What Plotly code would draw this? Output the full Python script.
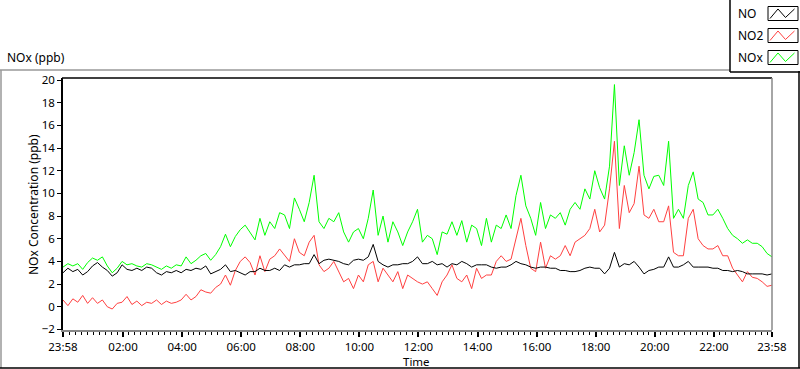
import pandas as pd
import plotly.graph_objects as go

# ---------------- data (10-minute readings, 23:58 -> 23:58) ----------------
START = "2000-01-01 23:58"
END = "2000-01-02 23:58"
STEP = "10min"

NO = [
    3.0, 3.4, 3.1, 3.3, 2.8, 3.1,
    3.6, 3.9, 3.5, 3.2, 2.7, 3.0,
    3.7, 3.3, 3.2, 3.4, 3.2, 3.5,
    3.4, 3.0, 2.8, 3.1, 3.0, 3.2,
    3.0, 3.3, 3.2, 3.4, 3.3, 3.6,
    2.9, 3.1, 3.3, 3.7, 3.1, 3.2,
    3.0, 2.8, 3.1, 3.1, 3.4, 3.2,
    3.2, 3.4, 3.2, 3.7, 3.5, 3.7,
    3.7, 3.8, 3.8, 4.6, 3.8, 4.1,
    4.2, 4.1, 4.0, 3.8, 3.7, 4.1,
    4.2, 4.1, 4.4, 5.5, 4.0, 3.7,
    3.5, 3.7, 3.7, 3.8, 3.8, 4.0,
    4.4, 3.8, 3.8, 4.0, 3.7, 3.8,
    3.5, 3.8, 3.7, 4.0, 3.8, 3.5,
    3.7, 3.7, 3.7, 3.5, 3.4, 3.5,
    3.5, 3.7, 4.0, 3.8, 3.7, 3.5,
    3.4, 3.5, 3.5, 3.4, 3.4, 3.2,
    3.2, 3.1, 3.1, 3.2, 3.4, 3.5,
    3.4, 3.4, 2.9, 3.4, 4.8, 3.5,
    3.8, 3.7, 4.0, 3.5, 2.9, 3.2,
    3.3, 3.5, 3.5, 4.4, 3.5, 3.5,
    3.7, 4.0, 3.5, 3.5, 3.5, 3.5,
    3.4, 3.4, 3.2, 3.2, 3.1, 3.2,
    3.1, 2.9, 2.9, 2.9, 2.9, 2.8,
    2.9,
]

NO2 = [
    0.6, 0.1, 0.7, 0.4, 1.0, 0.3,
    0.8, 0.3, 0.6, 0.0, -0.2, 0.3,
    0.4, 0.9, 0.2, 0.5, 0.1, 0.4,
    0.3, 0.6, 0.2, 0.5, 0.3, 0.4,
    0.6, 1.1, 0.6, 0.9, 1.5, 1.3,
    1.2, 1.7, 2.0, 2.8, 1.9, 3.2,
    4.0, 4.4, 3.9, 2.8, 4.5, 3.1,
    4.2, 4.5, 5.1, 4.5, 4.0, 6.0,
    4.8, 4.5, 5.7, 6.3, 3.7, 3.1,
    3.4, 4.0, 3.1, 2.2, 2.5, 1.6,
    2.8, 2.2, 3.7, 4.0, 2.2, 3.4,
    2.8, 2.2, 3.1, 1.6, 2.8, 2.5,
    2.2, 2.0, 2.2, 1.6, 1.0, 2.2,
    2.8, 3.7, 2.5, 2.2, 2.8, 1.6,
    3.4, 2.5, 2.8, 2.8, 4.0, 4.5,
    4.0, 4.2, 6.0, 7.8, 5.4, 3.4,
    3.1, 5.7, 3.4, 4.5, 4.2, 4.5,
    5.4, 4.5, 5.7, 6.0, 6.3, 6.9,
    8.6, 6.6, 7.2, 10.4, 14.6, 6.9,
    10.7, 8.3, 9.1, 12.4, 8.1, 7.8,
    8.6, 7.5, 7.5, 8.9, 4.8, 4.5,
    4.5, 7.8, 8.6, 6.0, 5.4, 5.1,
    5.1, 5.4, 4.5, 4.5, 3.4, 2.8,
    2.2, 3.1, 2.6, 2.5, 2.2, 1.8,
    1.9,
]

NOX = [
    3.5, 3.8, 3.6, 3.8, 3.3, 3.9,
    4.3, 4.1, 4.4, 3.6, 3.0, 3.4,
    4.0, 3.7, 3.8, 3.6, 3.5, 3.8,
    3.7, 3.5, 3.3, 3.6, 3.4, 3.7,
    3.6, 4.4, 3.8, 4.1, 4.5, 4.7,
    4.1, 4.6, 5.3, 6.4, 5.3, 6.2,
    6.8, 7.2, 6.6, 5.9, 7.8, 6.3,
    7.5, 6.9, 8.3, 8.1, 6.9, 9.6,
    8.6, 7.5, 9.2, 11.6, 7.5, 6.9,
    7.8, 7.5, 8.3, 6.6, 5.7, 6.6,
    6.9, 6.0, 7.8, 10.3, 6.3, 8.0,
    5.7, 7.5, 6.6, 5.4, 6.6, 7.5,
    8.6, 5.7, 6.3, 6.0, 4.6, 6.6,
    6.4, 7.5, 6.3, 7.6, 5.7, 7.2,
    6.9, 5.4, 7.8, 5.7, 7.2, 6.9,
    8.1, 6.9, 9.8, 11.6, 8.9, 7.8,
    6.3, 9.2, 6.9, 8.1, 7.8, 8.3,
    7.2, 8.6, 9.2, 8.6, 10.4, 9.5,
    12.0, 10.5, 9.5, 12.4, 19.6, 10.7,
    14.2, 11.6, 13.6, 16.5, 11.6, 10.4,
    11.5, 11.6, 10.7, 14.6, 7.8, 8.6,
    7.8, 10.7, 11.9, 9.5, 9.2, 8.1,
    8.1, 8.6, 7.8, 6.9, 6.3, 6.0,
    5.6, 5.9, 5.6, 5.6, 5.3, 4.7,
    4.4,
]

SERIES_NAMES = ["NO", "NO2", "NOx"]
SERIES_COLORS = ["#000000", "#FF4040", "#00FF00"]

X_TICK_VALS = ["2000-01-01 23:58", "2000-01-02 02:00", "2000-01-02 04:00",
               "2000-01-02 06:00", "2000-01-02 08:00", "2000-01-02 10:00",
               "2000-01-02 12:00", "2000-01-02 14:00", "2000-01-02 16:00",
               "2000-01-02 18:00", "2000-01-02 20:00", "2000-01-02 22:00",
               "2000-01-02 23:58"]
X_TICK_TEXT = ["23:58", "02:00", "04:00", "06:00", "08:00", "10:00", "12:00",
               "14:00", "16:00", "18:00", "20:00", "22:00", "23:58"]
Y_TICKS = list(range(-2, 21, 2))

times = pd.date_range(START, END, freq=STEP)

# ---------------- layout geometry ----------------
W, H = 800, 369
L, R, T, B = 63, 772, 78, 330  # plot area in pixels
PW, PH = R - L, B - T


def px(x):
    return (x - L) / PW


def py(y):
    return (B - y) / PH


FONT = "Noto Sans, DejaVu Sans, sans-serif"

fig = go.Figure()
values = {"NO": NO, "NO2": NO2, "NOx": NOX}
for name in ["NOx", "NO2", "NO"]:
    c = SERIES_COLORS[SERIES_NAMES.index(name)]
    fig.add_trace(go.Scatter(x=times, y=values[name], mode="lines", name=name,
                             line=dict(color=c, width=1), showlegend=False))

shapes = []
# plot frame: top/left black, bottom/right gray
shapes.append(dict(type="line", xref="paper", yref="paper", x0=px(L - 1), x1=px(R), y0=1, y1=1,
                   line=dict(color="black", width=1.5)))
shapes.append(dict(type="line", xref="paper", yref="paper", x0=1, x1=1, y0=0, y1=1,
                   line=dict(color="#888888", width=1.5)))
# outer frame
shapes.append(dict(type="line", xref="paper", yref="paper", x0=px(0), x1=px(730), y0=py(70), y1=py(70),
                   line=dict(color="#999999", width=1.5)))
shapes.append(dict(type="line", xref="paper", yref="paper", x0=px(1), x1=px(1), y0=py(70), y1=py(368),
                   line=dict(color="#999999", width=1.5)))
shapes.append(dict(type="line", xref="paper", yref="paper", x0=px(0), x1=px(800), y0=py(368), y1=py(368),
                   line=dict(color="black", width=1.5)))
shapes.append(dict(type="line", xref="paper", yref="paper", x0=px(799), x1=px(799), y0=py(71), y1=py(368),
                   line=dict(color="black", width=1.5)))
# legend frame
shapes.append(dict(type="line", xref="paper", yref="paper", x0=px(730), x1=px(730), y0=py(0), y1=py(72),
                   line=dict(color="black", width=1.5)))
shapes.append(dict(type="line", xref="paper", yref="paper", x0=px(730), x1=px(800), y0=py(72), y1=py(72),
                   line=dict(color="black", width=1.5)))

annotations = []
legend_rows = [13.5, 35.5, 57.5]
for i, (name, c) in enumerate(zip(SERIES_NAMES, SERIES_COLORS)):
    yc = legend_rows[i]
    annotations.append(dict(x=px(736), y=py(yc), xref="paper", yref="paper", text=name,
                            showarrow=False, xanchor="left", yanchor="middle",
                            font=dict(family=FONT, size=12, color="black")))
    shapes.append(dict(type="rect", xref="paper", yref="paper", x0=px(768), x1=px(798),
                       y0=py(yc - 7), y1=py(yc + 7), line=dict(color="black", width=1),
                       fillcolor="white"))
    pts = [(770, yc + 5), (778, yc - 4.5), (785.5, yc + 4), (794.5, yc - 4.5)]
    path = "M " + " L ".join(f"{px(a):.5f},{py(b):.5f}" for a, b in pts)
    shapes.append(dict(type="path", xref="paper", yref="paper", path=path,
                       line=dict(color=c, width=1)))

annotations.append(dict(x=px(5), y=py(57), xref="paper", yref="paper", text="NOx (ppb)",
                        showarrow=False, xanchor="left", yanchor="middle",
                        font=dict(family=FONT, size=12, color="black")))
annotations.append(dict(x=px(33), y=py(205), xref="paper", yref="paper",
                        text="NOx Concentration (ppb)", textangle=-90,
                        showarrow=False, xanchor="center", yanchor="middle",
                        font=dict(family=FONT, size=12, color="black")))
annotations.append(dict(x=px(416), y=py(361), xref="paper", yref="paper", text="Time",
                        showarrow=False, xanchor="center", yanchor="middle",
                        font=dict(family=FONT, size=11.5, color="black")))

fig.update_layout(
    width=W, height=H,
    margin=dict(l=L, r=W - R, t=T, b=H - B),
    paper_bgcolor="white", plot_bgcolor="white",
    showlegend=False,
    shapes=shapes, annotations=annotations,
    font=dict(family=FONT, size=12, color="black"),
)
fig.update_xaxes(
    type="date", range=[START, END],
    tickvals=X_TICK_VALS, ticktext=X_TICK_TEXT,
    ticks="outside", ticklen=5, tickwidth=1.5, tickcolor="black",
    showgrid=False, zeroline=False,
    showline=True, linecolor="#888888", linewidth=1.5,
    tickfont=dict(family=FONT, size=11.5, color="black"),
    minor=dict(ticks="outside", ticklen=3, tickwidth=1, tickcolor="black",
               dtick=12 * 60 * 1000, tick0="2000-01-02 00:00", showgrid=False),
)
fig.update_yaxes(
    range=[-2.05, 20.18], tickvals=Y_TICKS,
    ticks="outside", ticklen=4, tickwidth=1, tickcolor="black",
    showgrid=False, zeroline=False,
    showline=True, linecolor="black", linewidth=1.5,
    tickfont=dict(family=FONT, size=11.5, color="black"),
)

fig.write_html("out.html", config={"displayModeBar": False},
               post_script="document.body.style.margin='0';document.body.style.padding='0';")
